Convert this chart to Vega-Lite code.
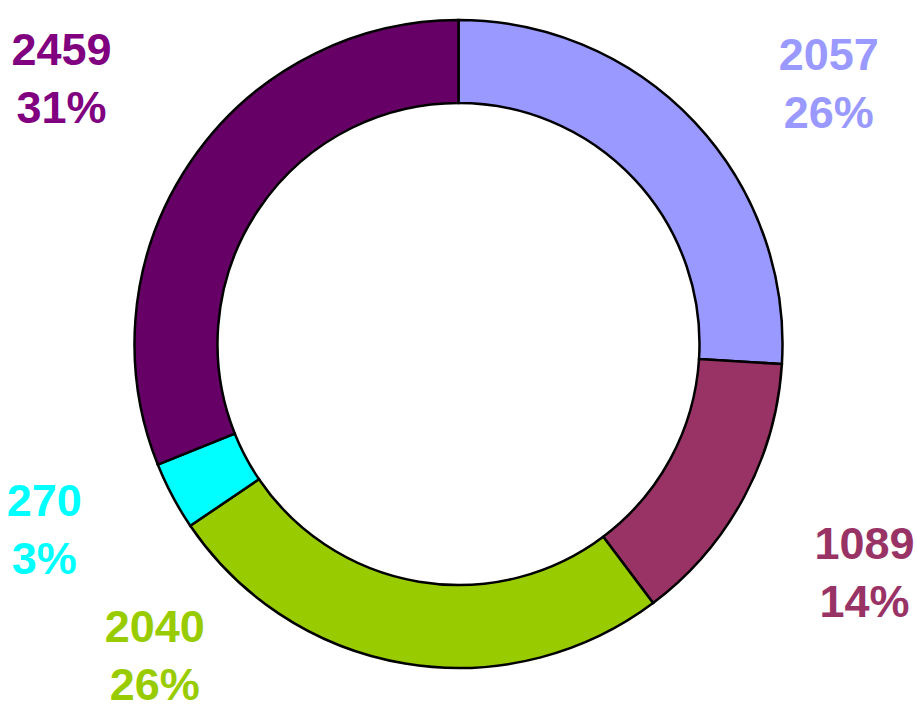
{
  "$schema": "https://vega.github.io/schema/vega-lite/v6.json",
  "width": 917,
  "height": 688,
  "autosize": {"type": "none"},
  "padding": {"left": 0, "top": 0, "right": 0, "bottom": 23},
  "background": "white",
  "view": {"stroke": null},
  "data": {
    "values": [
      {"cat": "S1", "value": 2057, "pct": "26%"},
      {"cat": "S2", "value": 1089, "pct": "14%"},
      {"cat": "S3", "value": 2040, "pct": "26%"},
      {"cat": "S4", "value": 270, "pct": "3%"},
      {"cat": "S5", "value": 2459, "pct": "31%"}
    ]
  },
  "transform": [
    {"calculate": "datum.value + '\\n' + datum.pct", "as": "label"}
  ],
  "encoding": {
    "theta": {"field": "value", "type": "quantitative", "stack": true},
    "order": {"field": "cat", "type": "nominal", "sort": "ascending"}
  },
  "resolve": {"scale": {"color": "independent"}},
  "layer": [
    {
      "mark": {"type": "arc", "outerRadius": 324, "innerRadius": 241, "stroke": "black", "strokeWidth": 2.5},
      "encoding": {
        "color": {
          "field": "cat", "type": "nominal", "legend": null,
          "scale": {"domain": ["S1", "S2", "S3", "S4", "S5"], "range": ["#9999FF", "#993366", "#99CC00", "#00FFFF", "#660066"]}
        }
      }
    },
    {
      "mark": {
        "type": "text", "radius": 460, "font": "Liberation Sans", "fontWeight": "bold", "fontSize": 45,
        "lineHeight": 58, "lineBreak": "\n", "align": "center", "baseline": "middle",
        "dx": {"expr": "datum.cat == 'S1' ? 35 : datum.cat == 'S2' ? 1 : datum.cat == 'S3' ? -228 : datum.cat == 'S4' ? -8 : -16"},
        "dy": {"expr": "datum.cat == 'S1' ? 27 : datum.cat == 'S2' ? -17 : datum.cat == 'S3' ? -170 : datum.cat == 'S4' ? -58 : -35"}
      },
      "encoding": {
        "text": {"field": "label", "type": "nominal"},
        "color": {
          "field": "cat", "type": "nominal", "legend": null,
          "scale": {"domain": ["S1", "S2", "S3", "S4", "S5"], "range": ["#9999FF", "#993366", "#99CC00", "#00FFFF", "#800080"]}
        }
      }
    }
  ]
}
